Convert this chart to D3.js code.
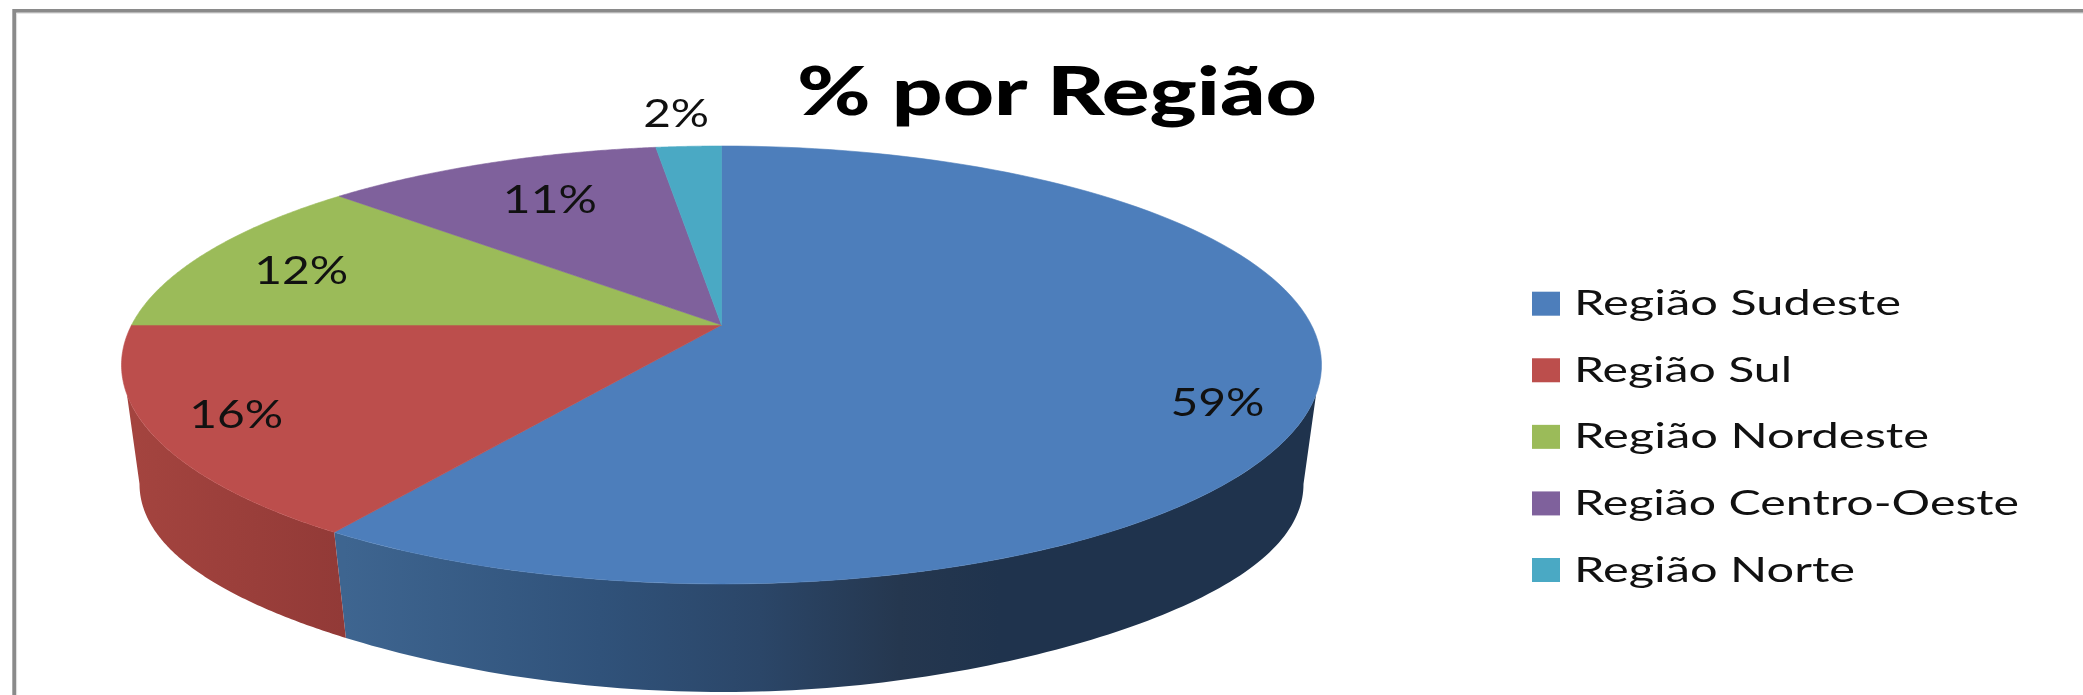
<!DOCTYPE html>
<html><head><meta charset="utf-8">
<script src="https://cdn.jsdelivr.net/npm/d3@7"></script>
<style>html,body{margin:0;padding:0;background:#fff;overflow:hidden}svg{display:block;filter:blur(0.7px)}text{font-family:Lato,"Open Sans",sans-serif}</style>
</head><body><svg id="c" width="2083" height="695"></svg>
<script>
const categories=["Região Sudeste","Região Sul","Região Nordeste","Região Centro-Oeste","Região Norte"];
const values=[59.4,15.6,12.0,10.9,2.1];
const labels=["59%","16%","12%","11%","2%"];
const title="% por Região";
const colors=["#4d7ebb","#bc4e4c","#9bbb59","#7f619c","#4aa9c4"];
// layout of the data labels on the pie plane (degrees clockwise from top, fraction of radius)
const labelAngle=[113.5,242.8,289.9,334,355.7];
const labelRadius=[.861,.857,.793,.74,1.226];
const legendWidths=[327,218,355,445,281];

const svg=d3.select("#c");
const defs=svg.append("defs");
function grad(id,x1,x2,stops){
  const g=defs.append("linearGradient").attr("id",id).attr("gradientUnits","userSpaceOnUse")
    .attr("x1",x1).attr("x2",x2).attr("y1",0).attr("y2",0);
  stops.forEach(s=>g.append("stop").attr("offset",s[0]).attr("stop-color",s[1]));
}
grad("wb",344,1000,[[0,"#3e6590"],[.39,"#30527a"],[.634,"#2b4668"],[.847,"#25374f"],[1,"#1f334d"]]);
grad("wr",130,344,[[0,"#a4443f"],[1,"#923a37"]]);

// frame
svg.append("path").attr("d","M14.2,695V10.8H2083").attr("fill","none").attr("stroke","#8a8a8a").attr("stroke-width",3.8);
svg.append("path").attr("d","M16.6,695V13.2H2083").attr("fill","none").attr("stroke","#dcdcdc").attr("stroke-width",1);

// perspective mapping of the unit circle on a projected ellipse
const c=0.1826;
const topP={cx:721.5,rx:600,top:146,apex:325};
const botP={cx:721.5,rx:582,top:281,apex:446.9};
function project(P,ang,r=1){
  const u=r*Math.sin(ang),v=r*Math.cos(ang),d=1+c*v;
  const a=P.top*(1+c)-P.apex;
  return [P.cx+P.rx*Math.sqrt(1-c*c)*u/d,(a*v+P.apex)/d];
}
// lower rim: same x as the projection, with the slightly flattened front profile of the original
const rimY=d3.scaleLinear().domain([0,1]).range([484,692]);
function rim(ang){
  const x=project(botP,ang)[0],dx=(x-botP.cx)/botP.rx;
  const s=Math.sqrt(Math.max(0,1-dx*dx));
  return [x,rimY(Math.pow(s,1+.2*s*s))];
}
const rad=d3.scaleLinear().domain([0,360]).range([0,2*Math.PI]);
const pie=d3.pie().sort(null).value(d=>d)(values);
const line=d3.line();
const steps=d3.range(0,121).map(i=>i/120);
const arcPts=(P,a0,a1)=>steps.map(t=>project(P,a0+(a1-a0)*t));
const rimPts=(a0,a1)=>steps.map(t=>rim(a0+(a1-a0)*t));

// side walls: top edge runs to where the silhouette leaves it, bottom edge to its widest point
const topStart=rad(108),topEnd=rad(252),botStart=rad(100.5),botEnd=rad(259.5);
[[0,"url(#wb)"],[1,"url(#wr)"]].forEach(([i,f])=>{
  const pts=arcPts(topP,Math.max(pie[i].startAngle,topStart),Math.min(pie[i].endAngle,topEnd))
    .concat(rimPts(Math.max(pie[i].startAngle,botStart),Math.min(pie[i].endAngle,botEnd)).reverse());
  svg.append("path").attr("d",line(pts)+"Z").attr("fill",f);
});
// top face
svg.append("g").selectAll("path").data(pie).join("path")
  .attr("d",d=>line([[topP.cx,topP.apex],...arcPts(topP,d.startAngle,d.endAngle)])+"Z")
  .attr("fill",(d,i)=>colors[i]).attr("stroke",(d,i)=>colors[i]).attr("stroke-width",0.6);

// data labels
svg.append("g").selectAll("text").data(labels).join("text")
  .each(function(d,i){
    const p=project(topP,rad(labelAngle[i]),labelRadius[i]);
    d3.select(this).attr("x",p[0]-1).attr("y",p[1]+13.5);
  })
  .attr("text-anchor","middle").attr("font-size",38).attr("fill","#111")
  .attr("textLength",d=>d.length===3?94:66).attr("lengthAdjust","spacingAndGlyphs").text(d=>d);

// title
svg.append("text").attr("x",1057).attr("y",114.5).attr("text-anchor","middle")
  .attr("font-size",67).attr("font-weight",900).attr("fill","#000")
  .attr("textLength",520).attr("lengthAdjust","spacingAndGlyphs").text(title);

// legend
const ly=d3.scalePoint().domain(categories).range([303.7,570]);
const lg=svg.append("g").selectAll("g").data(categories).join("g");
lg.append("rect").attr("x",1532).attr("y",d=>ly(d)-12).attr("width",28).attr("height",24).attr("fill",(d,i)=>colors[i]);
lg.append("text").attr("x",1574).attr("y",d=>ly(d)+11.5).attr("font-size",35.5).attr("fill","#111")
  .attr("textLength",(d,i)=>legendWidths[i]).attr("lengthAdjust","spacingAndGlyphs").text(d=>d);
</script></body></html>
